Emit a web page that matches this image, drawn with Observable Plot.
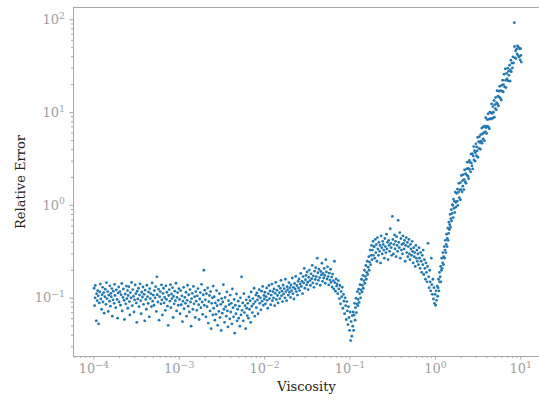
<!DOCTYPE html>
<html><head><meta charset="utf-8">
<script src="https://cdn.jsdelivr.net/npm/d3@7"></script>
<script src="https://cdn.jsdelivr.net/npm/@observablehq/plot@0.6"></script>
<style>body{margin:0;background:#fff}svg{display:block}</style>
</head><body><div id="chart"></div>
<script>
// Points: [log10(viscosity), relative error]
const plateau = [
[-3.997,0.128],[-3.991,0.083],[-3.985,0.101],[-3.983,0.137],[-3.972,0.057],[-3.968,0.112],[-3.961,0.094],[-3.955,0.121],[-3.949,0.106],[-3.944,0.053],[-3.936,0.089],[-3.931,0.117],[-3.924,0.142],[-3.918,0.098],[-3.909,0.076],[-3.903,0.109],
[-3.897,0.131],[-3.893,0.091],[-3.884,0.115],[-3.879,0.069],[-3.871,0.104],[-3.866,0.125],[-3.858,0.086],[-3.852,0.147],[-3.846,0.099],[-3.839,0.118],[-3.831,0.072],[-3.826,0.108],[-3.817,0.093],[-3.812,0.136],[-3.806,0.082],[-3.801,0.113],
[-3.796,0.104],[-3.789,0.127],[-3.783,0.064],[-3.775,0.096],[-3.771,0.119],[-3.762,0.088],[-3.757,0.141],[-3.751,0.107],[-3.743,0.079],[-3.737,0.123],[-3.728,0.097],[-3.722,0.061],[-3.716,0.114],[-3.709,0.132],[-3.704,0.091],
[-3.694,0.118],[-3.687,0.084],[-3.681,0.109],[-3.673,0.144],[-3.668,0.073],[-3.659,0.102],[-3.654,0.126],[-3.645,0.095],[-3.641,0.059],[-3.633,0.111],[-3.626,0.087],[-3.619,0.135],[-3.613,0.099],[-3.605,0.121],[-3.602,0.078],
[-3.598,0.107],[-3.591,0.133],[-3.584,0.092],[-3.578,0.066],[-3.571,0.115],[-3.565,0.101],[-3.558,0.148],[-3.549,0.083],[-3.544,0.124],[-3.536,0.105],[-3.529,0.071],[-3.523,0.096],[-3.516,0.139],[-3.508,0.112],[-3.503,0.089],
[-3.497,0.055],[-3.492,0.119],[-3.486,0.098],[-3.477,0.128],[-3.471,0.081],[-3.465,0.108],[-3.458,0.143],[-3.451,0.094],[-3.446,0.068],[-3.438,0.116],[-3.431,0.103],[-3.424,0.132],[-3.418,0.086],[-3.411,0.11],[-3.404,0.057],
[-3.399,0.122],[-3.392,0.097],[-3.385,0.076],[-3.379,0.138],[-3.372,0.104],[-3.364,0.088],[-3.359,0.117],[-3.351,0.063],[-3.345,0.127],[-3.338,0.099],[-3.332,0.112],[-3.325,0.081],[-3.317,0.146],[-3.311,0.093],[-3.304,0.108],
[-3.296,0.084],[-3.291,0.121],[-3.283,0.101],[-3.276,0.133],[-3.268,0.072],[-3.262,0.17],[-3.257,0.109],[-3.249,0.091],[-3.243,0.125],[-3.236,0.058],[-3.229,0.104],[-3.222,0.118],[-3.214,0.087],[-3.208,0.139],[-3.203,0.096],
[-3.197,0.066],[-3.19,0.113],[-3.184,0.128],[-3.177,0.089],[-3.171,0.102],[-3.163,0.074],[-3.156,0.136],[-3.149,0.097],[-3.144,0.116],[-3.137,0.082],[-3.129,0.051],[-3.123,0.107],[-3.117,0.124],[-3.109,0.093],[-3.102,0.14],
[-3.098,0.079],[-3.091,0.111],[-3.086,0.099],[-3.078,0.13],[-3.071,0.062],[-3.066,0.105],[-3.059,0.087],[-3.052,0.119],[-3.045,0.094],[-3.038,0.145],[-3.031,0.073],[-3.026,0.102],[-3.018,0.115],[-3.011,0.084],[-3.004,0.127]
];
const shoulder = [
[-2.996,0.097],[-2.99,0.068],[-2.983,0.121],[-2.977,0.085],[-2.969,0.106],[-2.962,0.056],[-2.956,0.093],[-2.948,0.131],[-2.943,0.077],[-2.935,0.102],[-2.928,0.088],[-2.921,0.116],[-2.914,0.064],[-2.907,0.095],[-2.902,0.138],
[-2.895,0.082],[-2.889,0.109],[-2.881,0.071],[-2.874,0.124],[-2.868,0.091],[-2.861,0.05],[-2.855,0.099],[-2.847,0.113],[-2.84,0.076],[-2.834,0.134],[-2.827,0.087],[-2.819,0.104],[-2.813,0.062],[-2.806,0.118],[-2.801,0.093],
[-2.794,0.074],[-2.788,0.106],[-2.781,0.127],[-2.773,0.085],[-2.767,0.059],[-2.76,0.098],[-2.753,0.115],[-2.746,0.079],[-2.739,0.141],[-2.732,0.091],[-2.726,0.067],[-2.719,0.109],[-2.712,0.2],[-2.706,0.084],[-2.701,0.122],
[-2.694,0.096],[-2.687,0.063],[-2.681,0.112],[-2.674,0.081],[-2.667,0.129],[-2.66,0.054],[-2.653,0.092],[-2.646,0.107],[-2.639,0.073],[-2.633,0.118],[-2.626,0.047],[-2.619,0.088],[-2.612,0.101],[-2.606,0.066],[-2.602,0.135],
[-2.597,0.078],[-2.59,0.104],[-2.583,0.058],[-2.577,0.089],[-2.57,0.067],[-2.563,0.121],[-2.556,0.083],[-2.549,0.051],[-2.542,0.095],[-2.536,0.072],[-2.529,0.112],[-2.522,0.062],[-2.515,0.086],[-2.508,0.045],[-2.503,0.099],
[-2.496,0.069],[-2.49,0.091],[-2.483,0.14],[-2.476,0.076],[-2.47,0.055],[-2.463,0.102],[-2.456,0.081],[-2.449,0.064],[-2.442,0.117],[-2.436,0.073],[-2.429,0.049],[-2.422,0.094],[-2.415,0.085],[-2.408,0.06],[-2.403,0.108],
[-2.397,0.071],[-2.39,0.088],[-2.383,0.053],[-2.377,0.126],[-2.37,0.079],[-2.363,0.063],[-2.356,0.097],[-2.35,0.042],[-2.343,0.084],[-2.336,0.068],[-2.329,0.111],[-2.322,0.057],[-2.315,0.076],[-2.309,0.093],[-2.303,0.061],
[-2.296,0.082],[-2.29,0.05],[-2.283,0.101],[-2.276,0.066],[-2.27,0.17],[-2.264,0.074],[-2.257,0.089],[-2.25,0.057],[-2.243,0.112],[-2.236,0.07],[-2.229,0.083],[-2.222,0.047],[-2.215,0.096],[-2.209,0.078],[-2.203,0.065]
];
const firstHump = [
[-2.197,0.088],[-2.19,0.061],[-2.184,0.103],[-2.177,0.076],[-2.17,0.094],[-2.163,0.055],[-2.157,0.117],[-2.15,0.082],[-2.143,0.07],[-2.137,0.099],[-2.13,0.087],[-2.123,0.128],[-2.116,0.064],[-2.109,0.092],[-2.103,0.108],
[-2.097,0.079],[-2.09,0.114],[-2.083,0.096],[-2.077,0.068],[-2.07,0.105],[-2.063,0.124],[-2.056,0.088],[-2.049,0.101],[-2.043,0.075],[-2.036,0.119],[-2.029,0.093],[-2.022,0.134],[-2.015,0.084],[-2.008,0.107],[-2.003,0.098],
[-1.996,0.116],[-1.99,0.087],[-1.983,0.104],[-1.976,0.129],[-1.97,0.095],[-1.963,0.078],[-1.956,0.112],[-1.949,0.137],[-1.943,0.099],[-1.936,0.12],[-1.929,0.085],[-1.922,0.108],[-1.915,0.142],[-1.909,0.094],[-1.903,0.118],
[-1.896,0.101],[-1.89,0.126],[-1.883,0.083],[-1.876,0.113],[-1.869,0.148],[-1.862,0.097],[-1.856,0.122],[-1.849,0.107],[-1.842,0.089],[-1.836,0.135],[-1.829,0.115],[-1.822,0.099],[-1.815,0.128],[-1.808,0.156],[-1.802,0.106],
[-1.797,0.119],[-1.79,0.092],[-1.783,0.138],[-1.777,0.111],[-1.77,0.127],[-1.763,0.101],[-1.756,0.16],[-1.75,0.118],[-1.743,0.094],[-1.736,0.133],[-1.729,0.124],[-1.722,0.108],[-1.715,0.147],[-1.709,0.116],[-1.703,0.13],
[-1.696,0.102],[-1.69,0.139],[-1.683,0.121],[-1.676,0.165],[-1.669,0.112],[-1.663,0.131],[-1.656,0.098],[-1.649,0.144],[-1.642,0.126],[-1.636,0.172],[-1.629,0.118],[-1.622,0.137],[-1.615,0.108],[-1.608,0.152],[-1.602,0.129],
[-1.597,0.161],[-1.59,0.121],[-1.583,0.143],[-1.577,0.185],[-1.57,0.134],[-1.563,0.152],[-1.556,0.112],[-1.549,0.171],[-1.542,0.146],[-1.536,0.21],[-1.529,0.128],[-1.522,0.158],[-1.515,0.176],[-1.508,0.139],[-1.502,0.192],
[-1.496,0.149],[-1.49,0.124],[-1.483,0.168],[-1.476,0.201],[-1.469,0.155],[-1.463,0.137],[-1.456,0.183],[-1.449,0.162],[-1.442,0.226],[-1.436,0.146],[-1.429,0.174],[-1.422,0.131],[-1.415,0.196],[-1.408,0.159],[-1.402,0.213],
[-1.396,0.171],[-1.39,0.143],[-1.383,0.27],[-1.376,0.188],[-1.37,0.156],[-1.363,0.205],[-1.356,0.167],[-1.349,0.138],[-1.342,0.194],[-1.336,0.178],[-1.329,0.238],[-1.322,0.152],[-1.315,0.185],[-1.308,0.165],[-1.302,0.21],
[-1.296,0.176],[-1.29,0.145],[-1.283,0.26],[-1.276,0.192],[-1.27,0.161],[-1.263,0.218],[-1.256,0.171],[-1.249,0.139],[-1.243,0.186],[-1.236,0.157],[-1.229,0.205],[-1.222,0.148],[-1.215,0.169],[-1.209,0.132],[-1.203,0.182],[-1.196,0.155],[-1.19,0.126],[-1.183,0.25],[-1.177,0.147],[-1.17,0.119],[-1.163,0.161],[-1.157,0.135]
];
const firstDip = [
[-1.15,0.142],[-1.144,0.112],[-1.137,0.155],[-1.131,0.126],[-1.124,0.099],[-1.117,0.137],[-1.111,0.087],[-1.104,0.118],[-1.097,0.104],[-1.091,0.131],[-1.084,0.078],[-1.077,0.11],[-1.071,0.093],[-1.064,0.068],[-1.057,0.101],[-1.051,0.083],[-1.044,0.059],[-1.037,0.092],[-1.031,0.073],[-1.024,0.052],[-1.018,0.081],[-1.011,0.062],[-1.005,0.045],[-0.998,0.071],[-0.993,0.035],[-0.986,0.056],[-0.979,0.039],[-0.973,0.065],
[-0.968,0.05],[-0.963,0.071],[-0.958,0.045],[-0.951,0.066],[-0.947,0.088],[-0.94,0.058],[-0.936,0.079],[-0.93,0.1],[-0.925,0.07],[-0.92,0.087],[-0.914,0.118],[-0.908,0.083],[-0.905,0.097],[-0.899,0.125],[-0.893,0.09],[-0.887,0.112],[-0.883,0.14],[-0.876,0.101],[-0.871,0.123],[-0.866,0.16],[-0.859,0.117],[-0.855,0.138],[-0.848,0.176],[-0.844,0.128],[-0.838,0.155],[-0.831,0.2],[-0.827,0.145],[-0.82,0.172],[-0.815,0.225],[-0.81,0.16],[-0.804,0.19],[-0.797,0.25],[-0.793,0.18],[-0.787,0.216],[-0.78,0.28],[-0.776,0.2],[-0.771,0.245],[-0.764,0.33],[-0.759,0.23],[-0.753,0.29],[-0.748,0.37],[-0.742,0.26],[-0.737,0.33],[-0.731,0.41],[-0.726,0.29],[-0.721,0.36]
];
const secondHump = [
[-0.716,0.36],[-0.71,0.27],[-0.704,0.43],[-0.698,0.31],[-0.692,0.38],[-0.685,0.25],[-0.679,0.45],[-0.673,0.34],[-0.667,0.29],[-0.661,0.4],[-0.654,0.32],[-0.648,0.37],[-0.642,0.24],[-0.636,0.47],[-0.629,0.35],[-0.623,0.3],[-0.617,0.41],[-0.611,0.38],[-0.604,0.33],[-0.598,0.27],[-0.592,0.44],[-0.586,0.36],[-0.579,0.31],[-0.573,0.49],[-0.567,0.34],[-0.561,0.4],[-0.554,0.26],[-0.548,0.42],[-0.542,0.37],[-0.536,0.32],[-0.529,0.56],[-0.523,0.39],[-0.517,0.35],[-0.511,0.29],[-0.504,0.76],[-0.498,0.43],[-0.492,0.3],[-0.486,0.38],[-0.479,0.48],[-0.473,0.34],[-0.467,0.41],[-0.461,0.28],[-0.454,0.46],[-0.448,0.37],[-0.442,0.32],[-0.436,0.69],[-0.429,0.4],[-0.423,0.35],[-0.417,0.51],[-0.411,0.27],[-0.404,0.44],[-0.398,0.33],[-0.392,0.38],[-0.386,0.3],[-0.379,0.47],[-0.373,0.39],[-0.367,0.34],[-0.361,0.42],[-0.354,0.25],[-0.348,0.37],[-0.342,0.45],[-0.336,0.31],[-0.329,0.4],[-0.323,0.28],[-0.317,0.36],[-0.311,0.43],[-0.304,0.3],[-0.298,0.26],[-0.292,0.38],[-0.286,0.34],[-0.279,0.29],[-0.273,0.41],[-0.267,0.32],[-0.261,0.24],[-0.254,0.35],[-0.248,0.28],[-0.242,0.31],[-0.236,0.22],[-0.229,0.37],[-0.223,0.27],[-0.217,0.33],[-0.211,0.25]
];
const secondDip = [
[-0.205,0.3],[-0.198,0.23],[-0.192,0.35],[-0.186,0.27],[-0.179,0.21],[-0.173,0.31],[-0.167,0.25],[-0.161,0.19],[-0.154,0.29],[-0.148,0.23],[-0.142,0.33],[-0.136,0.18],[-0.129,0.26],[-0.123,0.21],[-0.117,0.16],[-0.111,0.24],[-0.104,0.19],[-0.098,0.15],[-0.092,0.22],[-0.086,0.39],[-0.079,0.17],[-0.073,0.13],[-0.067,0.2],[-0.061,0.15],[-0.054,0.12],[-0.048,0.27],[-0.042,0.14],[-0.036,0.11],[-0.029,0.16],[-0.023,0.098],[-0.017,0.13],[-0.011,0.088],[-0.004,0.11],[0.002,0.084],[0.008,0.12],[0.014,0.095],[0.021,0.135],[0.027,0.105],
[0.031,0.13],[0.036,0.16],[0.042,0.12],[0.047,0.19],[0.049,0.15],[0.056,0.17],[0.061,0.22],[0.064,0.15],[0.071,0.2],[0.074,0.27],[0.079,0.21],[0.085,0.24],[0.088,0.31],[0.094,0.23],[0.097,0.28],[0.103,0.36],[0.108,0.27],[0.113,0.33],[0.116,0.42],[0.122,0.31],[0.126,0.38],[0.131,0.49],[0.137,0.36],[0.139,0.44],[0.145,0.57],[0.149,0.42],[0.154,0.5],[0.158,0.66],[0.163,0.55],[0.168,0.62],[0.172,0.8],[0.176,0.58],[0.181,0.72],[0.186,0.9],[0.19,0.68],[0.195,0.82],[0.199,1.02]
];
const steepRise = [
[0.204,1.0],[0.209,0.74],[0.211,1.17],[0.218,0.93],[0.224,1.11],[0.226,0.84],[0.233,1.39],[0.239,1.08],[0.241,0.96],[0.249,1.35],[0.256,1.11],[0.258,1.5],[0.262,1.0],[0.271,1.39],[0.274,1.73],[0.279,1.21],[0.286,1.47],[0.292,1.15],[0.293,1.76],[0.301,1.48],[0.305,2.1],[0.312,1.4],[0.318,1.85],[0.321,1.61],[0.327,2.15],[0.334,1.48],[0.336,1.91],[0.342,2.41],[0.349,1.8],[0.353,2.2],[0.358,1.73],[0.366,2.47],[0.368,2.12],[0.373,2.92],[0.381,2.06],[0.384,2.5],[0.39,1.94],[0.397,3.05],[0.399,2.44],
[0.404,2.9],[0.412,2.3],[0.417,3.57],[0.421,2.87],[0.428,2.67],[0.433,3.6],[0.436,2.47],[0.443,3.4],[0.449,4.3],[0.452,3.09],[0.458,3.88],[0.466,3.0],[0.467,3.7],[0.474,4.6],[0.481,3.43],[0.483,4.26],[0.489,3.86],[0.495,5.4],[0.498,3.3],
[0.506,4.86],[0.512,4.1],[0.514,5.5],[0.521,4.77],[0.527,4.03],[0.531,5.8],[0.537,4.93],[0.543,6.8],[0.546,4.67],[0.552,5.88],[0.559,5.2],[0.561,7.0],[0.568,6.07],[0.573,4.98],[0.578,7.15],[0.586,6.2],[0.589,8.8],[0.593,6.88],[0.599,5.95],
[0.606,8.4],[0.609,7.15],[0.617,9.7],[0.621,6.97],[0.624,8.45],[0.632,6.7],[0.637,10.1],[0.641,8.6],[0.648,10.0],[0.655,8.5],[0.658,12.4],[0.663,9.8],[0.671,8.7],[0.674,11.6],[0.679,10.1],[0.687,13.5],[0.69,8.9],[0.696,12.2],
[0.703,11.0],[0.705,14.5],[0.713,10.7],[0.716,12.8],[0.722,17.2],[0.729,12.3],[0.732,15.0],[0.738,11.8],[0.744,17.0],[0.749,14.7],[0.753,19.2],[0.761,14.2],[0.764,17.2],[0.772,13.7],[0.777,19.7],[0.781,17.0],[0.788,22.3],[0.794,16.7],[0.798,20.0],
[0.804,25.9],[0.811,18.9],[0.819,29.5],[0.823,22.3],[0.827,18.6],[0.834,26.4],[0.839,23.0],[0.846,30.1],[0.852,22.0],[0.856,27.8],[0.861,25.2],[0.868,32.4],[0.874,21.8],[0.877,28.9],[0.884,36.7],[0.889,27.6],[0.896,34.1],
[0.902,30.3],[0.908,39.9],[0.915,34.2],[0.924,93],[0.927,51.5],[0.931,38.9],[0.938,46.3],[0.944,38.2],[0.951,48.2],[0.957,42.9],[0.962,52.2],[0.968,41.1],[0.974,50.5],[0.981,39.8],[0.987,48.7],[0.993,37.0],[0.998,48.8],[1.002,41.3],[1.006,35.0]
];

const xMajorTicks = [1e-4, 1e-3, 1e-2, 1e-1, 1, 10];
const yMajorTicks = [0.1, 1, 10, 100];
const xLabel = "Viscosity";
const yLabel = "Relative Error";

const points = [...plateau, ...shoulder, ...firstHump, ...firstDip, ...secondHump, ...secondDip, ...steepRise]
  .map(([lv, e]) => ({viscosity: Math.pow(10, lv), error: e}));

const xDomain = [Math.pow(10, -4.238), Math.pow(10, 1.219)];
const yDomain = [Math.pow(10, -1.628), Math.pow(10, 2.132)];
const minor = (dom) => { const out = []; for (let k = -6; k <= 3; k++) for (let m = 2; m <= 9; m++) { const v = m * Math.pow(10, k); if (v > dom[0] && v < dom[1]) out.push(v); } return out; };

const axisGray = "#a8a8a8";
const labelGray = "#a0a0a0";
const fmt = d => "10^" + Math.round(Math.log10(d));

const chart = Plot.plot({
  width: 539, height: 400,
  marginTop: 7, marginRight: 0, marginBottom: 44, marginLeft: 73,
  style: {fontFamily: "'DejaVu Serif', serif", fontSize: "13px", background: "#fff"},
  x: {type: "log", domain: xDomain},
  y: {type: "log", domain: yDomain},
  marks: [
    Plot.axisX(minor(xDomain), {tickSize: 2, tickFormat: () => "", stroke: axisGray, label: null}),
    Plot.axisY(minor(yDomain), {tickSize: 2, tickFormat: () => "", stroke: axisGray, label: null}),
    Plot.axisX(xMajorTicks, {tickSize: 3.5, tickPadding: 4, tickFormat: fmt, stroke: axisGray, fill: labelGray, label: xLabel, labelAnchor: "center", labelArrow: "none", labelOffset: 34}),
    Plot.axisY(yMajorTicks, {tickSize: 3.5, tickPadding: 5, tickFormat: fmt, stroke: axisGray, fill: labelGray, label: yLabel, labelAnchor: "center", labelArrow: "none", labelOffset: 58}),
    Plot.ruleX([xDomain[0]], {stroke: axisGray}),
    Plot.ruleY([yDomain[0], yDomain[1]], {stroke: axisGray}),
    Plot.dot(points, {x: "viscosity", y: "error", r: 1.4, fill: "#1f77b4", stroke: "none"})
  ]
});
document.getElementById("chart").appendChild(chart);

// superscript exponents like matplotlib mathtext
chart.querySelectorAll("text").forEach(t => {
  const s = t.textContent;
  if (/^10\^-?\d+$/.test(s)) {
    const e = s.split("^")[1].replace("-", "\u2212");
    t.textContent = "10";
    const sup = document.createElementNS("http://www.w3.org/2000/svg", "tspan");
    sup.setAttribute("dy", "-0.55em");
    sup.setAttribute("font-size", "72%");
    sup.textContent = e;
    t.appendChild(sup);
  }
});
chart.querySelectorAll('g[aria-label="x-axis label"], g[aria-label="y-axis label"]').forEach(g => g.setAttribute("fill", "#222"));
chart.querySelectorAll('g[aria-label="x-axis label"] text, g[aria-label="y-axis label"] text').forEach(t => t.setAttribute("fill", "#222"));
</script>
</body></html>
